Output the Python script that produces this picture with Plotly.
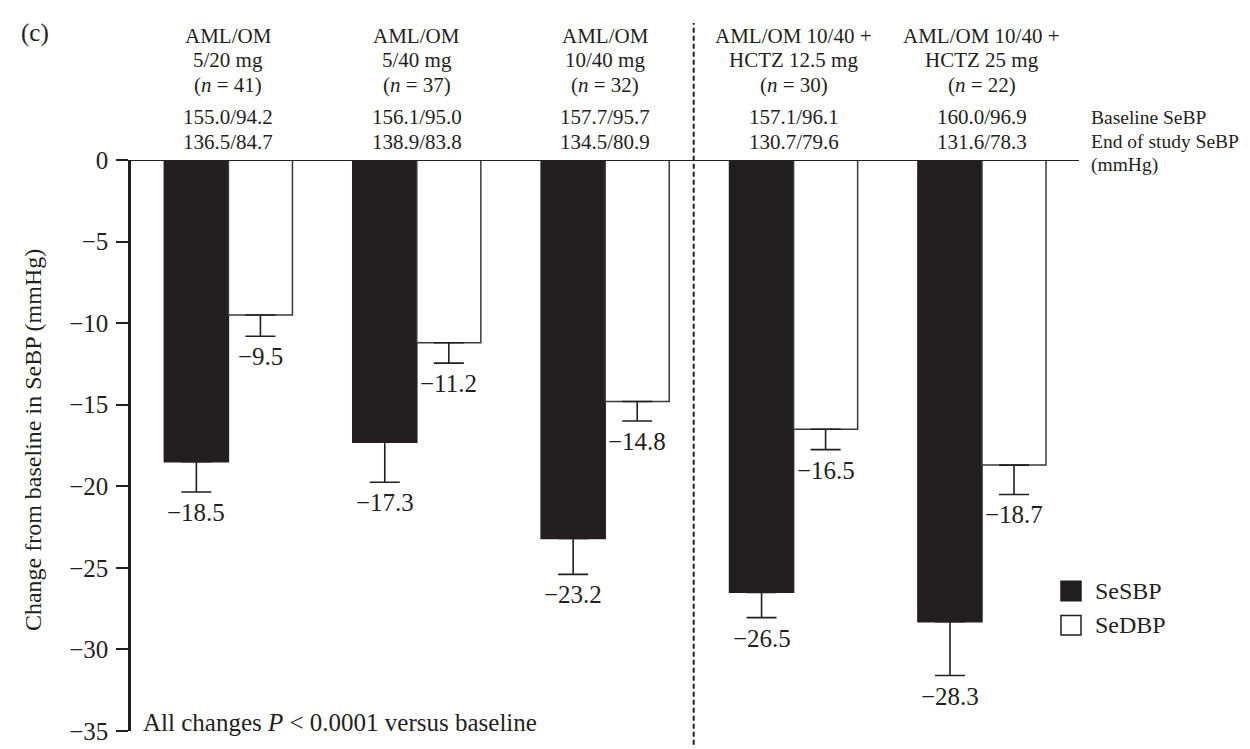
import plotly.graph_objects as go

# ---------------- data ----------------
line1 = ["AML/OM", "AML/OM", "AML/OM", "AML/OM 10/40 +", "AML/OM 10/40 +"]
line2 = ["5/20 mg", "5/40 mg", "10/40 mg", "HCTZ 12.5 mg", "HCTZ 25 mg"]
n_pat = [41, 37, 32, 30, 22]
baseline = ["155.0/94.2", "156.1/95.0", "157.7/95.7", "157.1/96.1", "160.0/96.9"]
end_study = ["136.5/84.7", "138.9/83.8", "134.5/80.9", "130.7/79.6", "131.6/78.3"]
sesbp = [-18.5, -17.3, -23.2, -26.5, -28.3]
sedbp = [-9.5, -11.2, -14.8, -16.5, -18.7]
sesbp_err = [1.85, 2.45, 2.2, 1.55, 3.3]
sedbp_err = [1.3, 1.25, 1.2, 1.25, 1.8]
y_ticks = [0, -5, -10, -15, -20, -25, -30, -35]

# ---------------- layout helpers ----------------
FONT = "Liberation Serif"
W, H = 1250, 749
L, R, T, B = 123, 179, 152, 14
xpos = list(range(len(sesbp)))
BW = 0.34
PLOT_H = H - T - B


def py(p):
    """pixel y (from top) -> paper y"""
    return (H - B - p) / PLOT_H


def px(p):
    return (p - L) / (W - L - R)


fig = go.Figure()
fig.add_trace(go.Bar(
    x=xpos, y=sesbp, width=BW, offset=-BW, name="SeSBP",
    marker=dict(color="#231f20", line=dict(color="#231f20", width=1.5)),
    error_y=dict(type="data", symmetric=False, array=[0] * len(sesbp),
                 arrayminus=sesbp_err, color="#231f20", thickness=1.6, width=15),
    showlegend=False,
))
fig.add_trace(go.Bar(
    x=xpos, y=sedbp, width=BW, offset=0, name="SeDBP",
    marker=dict(color="white", line=dict(color="#3a3a3a", width=1.5)),
    error_y=dict(type="data", symmetric=False, array=[0] * len(sedbp),
                 arrayminus=sedbp_err, color="#231f20", thickness=1.6, width=15),
    showlegend=False,
))

ann = []
# value labels under error bars
for i in xpos:
    ann.append(dict(x=i - BW / 2, y=sesbp[i] - sesbp_err[i], xref="x", yref="y",
                    text="\u2212" + f"{abs(sesbp[i]):.1f}", showarrow=False,
                    yanchor="top", yshift=-5, font=dict(size=25)))
    ann.append(dict(x=i + BW / 2, y=sedbp[i] - sedbp_err[i], xref="x", yref="y",
                    text="\u2212" + f"{abs(sedbp[i]):.1f}", showarrow=False,
                    yanchor="top", yshift=-5, font=dict(size=25)))

# header lines
rows = [25, 50, 75, 108.5, 133.5]
for i in xpos:
    texts = [line1[i], line2[i], f"(<i>n</i> = {n_pat[i]})", baseline[i], end_study[i]]
    for t, yy in zip(texts, rows):
        ann.append(dict(x=i, y=py(yy), xref="x", yref="paper", text=t,
                        showarrow=False, yanchor="middle", font=dict(size=21)))

# right side labels
for t, yy in zip(["Baseline SeBP", "End of study SeBP", "(mmHg)"], [108.5, 133.5, 157]):
    ann.append(dict(x=px(1081), y=py(yy), xref="paper", yref="paper", text=t,
                    showarrow=False, xanchor="left", yanchor="middle", font=dict(size=19.5)))

# panel label
ann.append(dict(x=px(11), y=py(22), xref="paper", yref="paper", text="(c)",
                showarrow=False, xanchor="left", yanchor="middle", font=dict(size=25)))

# y title
ann.append(dict(x=px(25), y=py(438), xref="paper", yref="paper",
                text="Change from baseline in SeBP (mmHg)", textangle=-90,
                showarrow=False, xanchor="center", yanchor="middle", font=dict(size=24)))

# footnote
ann.append(dict(x=px(133), y=py(726), xref="paper", yref="paper",
                text="All changes <i>P</i> &lt; 0.0001 versus baseline",
                showarrow=False, xanchor="left", yanchor="middle", font=dict(size=25)))

# legend (manual)
shapes = []
for name, col, yy in [("SeSBP", "#231f20", 592), ("SeDBP", "white", 627)]:
    shapes.append(dict(type="rect", xref="paper", yref="paper",
                       x0=px(1053), x1=px(1073), y0=py(yy + 10), y1=py(yy - 10),
                       fillcolor=col, line=dict(color="#231f20", width=1.5)))
    ann.append(dict(x=px(1085), y=py(yy), xref="paper", yref="paper", text=name,
                    showarrow=False, xanchor="left", yanchor="middle", font=dict(size=24)))

# zero line
shapes.append(dict(type="line", xref="paper", yref="y", x0=0, x1=1, y0=0, y1=0,
                   line=dict(color="#231f20", width=2)))
# dashed separator
shapes.append(dict(type="line", xref="x", yref="paper", x0=2.47, x1=2.47,
                   y0=py(749), y1=py(12), line=dict(color="#231f20", width=2, dash="5px,3px")))

fig.update_layout(
    width=W, height=H,
    margin=dict(l=L, r=R, t=T, b=B),
    paper_bgcolor="white", plot_bgcolor="white",
    font=dict(family=FONT, color="#231f20", size=21),
    barmode="overlay",
    annotations=ann, shapes=shapes,
    xaxis=dict(visible=False, range=[-0.517, 4.515]),
    yaxis=dict(range=[-35, 0], tickvals=y_ticks, showline=True, linewidth=2.5,
               linecolor="#231f20", ticks="outside", ticklen=12, tickwidth=2,
               tickcolor="#231f20", showgrid=False, zeroline=False,
               tickfont=dict(size=25), ticklabelstandoff=3),
)

fig.write_html("out.html")
